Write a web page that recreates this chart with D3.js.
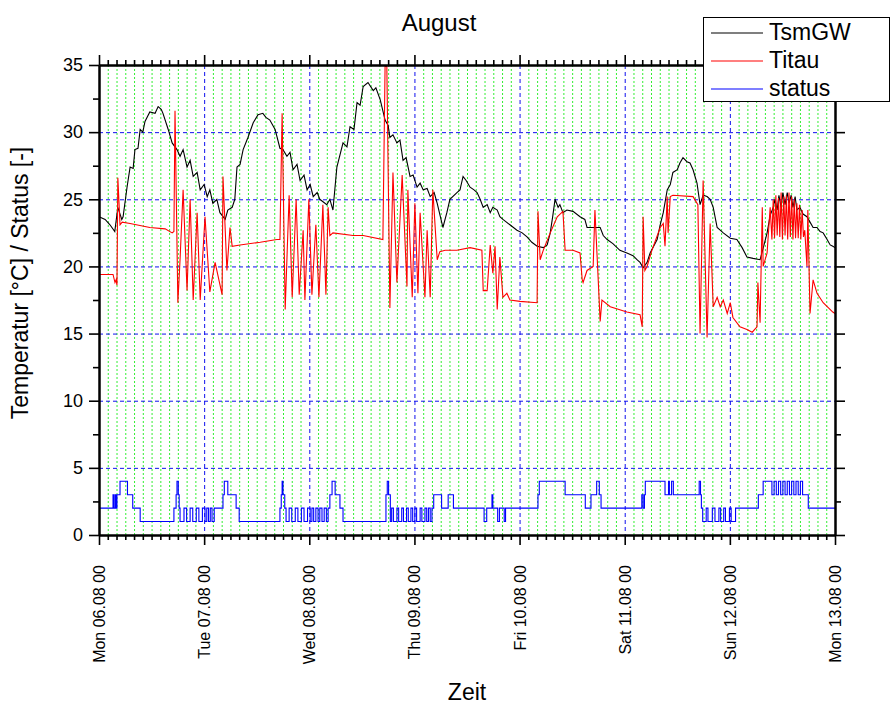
<!DOCTYPE html>
<html><head><meta charset="utf-8">
<script src="https://cdn.jsdelivr.net/npm/d3@7"></script>
<style>body{margin:0;background:#fff} text{font-family:"Liberation Sans",Arial,sans-serif}</style>
</head><body><svg id="c" width="891" height="706"></svg>
<script>
// ---------- DATA (time = hours since Mon 06.08 00:00) ----------
const dayLabels = ["Mon 06.08 00","Tue 07.08 00","Wed 08.08 00","Thu 09.08 00","Fri 10.08 00","Sat 11.08 00","Sun 12.08 00","Mon 13.08 00"];
const yTickValues = [0,5,10,15,20,25,30,35];
const seriesNames = ["TsmGW","Titau","status"];
const seriesColors = ["#000000","#ff0000","#0000ff"];

const tsmGW = [[0,23.7],[1.4,23.5],[2.5,23.1],[3.6,22.6],[4.3,24.4],[5.2,23.5],[5.5,23.7],[6.4,25.9],[7.1,27.4],[7.8,27.3],[8.2,28.7],[8.9,28.8],[9.4,30.2],[10.0,30.0],[10.5,30.8],[11.6,31.5],[12.8,31.4],[13.5,31.9],[14.2,31.7],[14.6,31.4],[15.8,30.2],[16.7,29.2],[17.8,28.7],[18.5,28.2],[19.2,28.7],[20.1,27.4],[20.8,27.9],[21.5,26.7],[22.4,27.0],[23.1,25.7],[24.0,26.1],[24.7,25.2],[25.3,25.7],[26.0,24.7],[26.9,25.0],[27.6,24.0],[28.8,23.5],[29.4,24.2],[30.4,24.4],[31.0,25.0],[31.5,27.4],[32.2,27.6],[32.9,28.7],[34.0,29.6],[35.2,30.7],[36.3,31.3],[37.4,31.4],[38.1,31.1],[39.0,30.9],[40.2,30.2],[41.3,28.8],[42.0,28.7],[42.9,28.2],[43.6,28.5],[44.3,27.2],[45.2,27.6],[45.9,26.4],[46.8,26.8],[47.5,25.7],[48.2,26.1],[48.9,25.2],[49.8,25.5],[50.4,25.0],[52.0,24.6],[52.7,25.0],[53.4,24.2],[54.3,27.4],[55.7,29.2],[56.6,28.9],[57.3,30.4],[58.2,30.2],[58.9,32.2],[59.6,32.0],[60.3,33.4],[61.4,33.7],[62.6,33.1],[63.2,33.3],[64.2,32.4],[65.3,30.9],[66.0,30.5],[66.4,29.6],[67.1,29.8],[68.0,29.2],[68.7,29.4],[69.4,27.9],[70.1,28.1],[71.0,26.7],[71.7,26.8],[72.6,25.9],[73.3,26.2],[74.0,25.7],[74.9,25.8],[75.6,25.2],[76.5,25.5],[77.2,24.7],[78.5,22.9],[79.4,24.0],[80.1,25.0],[81.7,25.5],[82.4,25.7],[83.1,26.7],[83.8,26.4],[84.7,25.9],[85.6,25.7],[86.3,25.5],[87.0,25.0],[87.7,24.4],[88.6,24.6],[89.3,24.0],[89.9,24.4],[90.9,24.2],[91.5,23.7],[92.2,23.5],[93.8,23.1],[95.4,22.7],[96.6,22.5],[97.7,22.2],[98.8,21.8],[100.0,21.5],[101.4,21.4],[102.3,21.6],[103.0,22.5],[103.6,23.8],[104.1,25.0],[104.8,24.4],[105.2,24.6],[105.9,24.0],[106.8,24.2],[108.2,24.1],[109.8,23.7],[110.9,23.5],[111.4,22.9],[112.8,22.9],[114.4,22.9],[115.1,22.3],[116.0,22.0],[117.3,21.7],[118.9,21.2],[120.5,21.0],[121.9,20.8],[122.8,20.5],[123.5,20.3],[124.2,19.9],[125.1,20.3],[125.8,21.0],[127.4,22.0],[128.1,23.1],[128.8,24.0],[129.7,25.7],[130.4,26.1],[131.0,27.0],[132.0,27.2],[132.6,27.7],[133.3,28.1],[134.2,27.8],[134.9,27.7],[135.6,27.2],[136.5,26.2],[137.2,24.6],[137.9,25.3],[138.8,25.2],[139.5,25.0],[140.2,24.4],[141.1,22.9],[141.8,22.7],[142.5,22.5],[144.1,22.1],[145.6,22.0],[146.8,21.4],[147.9,20.7],[149.3,20.6],[150.9,20.5],[151.8,21.6],[152.5,22.5],[153.2,23.8],[153.9,24.4],[154.3,25.0],[154.8,24.2],[155.2,25.3],[155.7,24.4],[156.1,25.5],[156.6,24.6],[157.1,25.5],[157.5,24.7],[158.0,25.3],[158.4,24.4],[158.9,25.2],[159.3,24.2],[160.0,24.4],[160.7,23.9],[161.6,23.7],[162.3,23.3],[163.0,22.9],[163.9,22.9],[164.6,22.6],[165.3,22.5],[166.2,22.0],[166.9,21.6],[167.5,21.5],[168.0,21.4]];

const titau = [[0,19.4],[3.2,19.4],[3.65,18.8],[3.9,19.0],[4.1,18.6],[4.3,26.6],[4.8,23.1],[5.3,23.3],[7.1,23.2],[11.6,22.9],[15.1,22.8],[16.7,22.5],[17.1,22.6],[17.35,31.6],[18.0,17.3],[18.5,20.5],[19.2,25.7],[20.1,18.2],[20.8,25.0],[21.5,17.5],[22.4,24.0],[23.1,17.5],[24.2,23.7],[25.3,18.1],[26.5,20.3],[28.1,17.9],[28.3,26.7],[29.2,19.7],[29.9,22.9],[30.4,21.5],[32.2,21.6],[36.8,21.8],[40.6,22.0],[41.3,22.0],[41.8,31.4],[42.5,16.8],[43.4,25.3],[44.1,17.7],[45.0,25.0],[45.7,17.9],[46.6,22.7],[47.0,17.5],[47.9,25.0],[48.6,17.9],[49.5,23.1],[50.2,17.7],[51.1,24.6],[51.8,17.9],[52.3,24.4],[52.7,22.3],[53.4,22.5],[58.0,22.3],[60.3,22.3],[64.8,22.0],[65.3,34.9],[65.7,34.9],[66.4,16.9],[67.1,27.0],[68.0,18.8],[69.2,26.8],[70.3,18.5],[70.5,25.7],[71.5,17.7],[72.1,24.7],[72.8,18.0],[73.3,24.0],[74.4,17.7],[74.9,22.7],[75.6,17.7],[76.2,25.7],[77.2,20.5],[77.8,21.1],[79.0,21.2],[81.7,21.2],[84.7,21.4],[87.4,21.2],[87.7,18.2],[88.6,18.2],[89.3,21.6],[89.9,19.5],[90.4,21.5],[90.9,16.8],[91.5,20.7],[92.2,17.7],[93.1,18.0],[93.8,17.5],[96.1,17.4],[100.0,17.3],[100.2,24.1],[100.7,20.5],[101.4,21.2],[103.0,22.5],[104.6,23.7],[105.9,24.1],[106.4,21.2],[108.2,21.2],[109.8,21.0],[110.3,19.0],[110.5,18.8],[111.4,19.7],[112.8,20.0],[113.2,24.2],[114.4,15.9],[114.8,17.5],[116.7,17.0],[120.5,16.6],[123.5,16.4],[124.0,15.5],[124.2,23.7],[124.6,19.7],[125.1,20.0],[126.2,21.2],[128.1,22.9],[128.8,23.2],[129.2,21.5],[129.7,25.2],[129.9,22.5],[130.4,25.2],[131.0,25.3],[135.6,25.2],[136.7,24.6],[137.2,15.0],[137.9,26.4],[138.8,14.7],[139.5,23.2],[140.2,17.0],[141.1,17.7],[141.8,17.0],[142.5,17.5],[143.4,16.5],[144.1,17.3],[144.7,16.2],[146.3,15.5],[147.9,15.3],[149.1,15.1],[150.2,15.5],[150.4,18.8],[150.9,15.8],[151.4,24.4],[151.6,20.0],[152.5,21.0],[153.2,24.4],[153.6,22.0],[153.9,25.0],[154.2,22.1],[154.5,25.3],[154.8,22.3],[155.1,25.1],[155.4,22.2],[155.7,25.5],[156.0,22.0],[156.3,25.2],[156.6,22.3],[156.9,25.3],[157.2,22.0],[157.5,25.5],[157.8,22.2],[158.1,25.2],[158.4,22.0],[158.7,25.0],[159.0,22.1],[159.3,24.7],[159.6,22.1],[159.9,24.6],[160.2,22.0],[160.5,24.2],[160.8,22.2],[161.1,22.7],[161.6,20.0],[161.8,24.2],[162.3,16.5],[163.0,19.0],[163.9,18.0],[165.3,17.3],[167.5,16.6],[168.0,16.5]];

const status = [[0,2],[3.2,3],[3.4,2],[3.7,3],[3.9,2],[4.1,3],[4.8,4],[6.5,3],[7.7,2],[9.4,1],[17.1,2],[17.6,3],[17.8,4],[18.1,3],[18.3,2],[18.5,1],[19.4,2],[20.0,1],[20.8,2],[21.4,1],[22.2,2],[22.8,1],[23.6,2],[24.2,1],[24.6,2],[25.0,1],[25.4,2],[25.8,1],[26.3,2],[28.3,3],[28.6,4],[29.4,3],[31.3,2],[32.0,1],[41.3,2],[41.6,3],[41.8,4],[42.0,3],[42.4,2],[42.7,1],[43.4,2],[44.0,1],[44.8,2],[45.4,1],[46.2,2],[46.8,1],[47.6,2],[48.2,1],[48.6,2],[49.0,1],[49.5,2],[50.0,1],[50.4,2],[50.9,1],[51.4,2],[51.9,1],[52.3,2],[52.7,3],[53.2,4],[53.9,3],[55.0,2],[55.7,1],[65.5,3],[65.8,4],[66.1,3],[66.5,1],[66.8,2],[67.2,1],[68.0,2],[68.4,1],[69.1,2],[69.5,1],[70.2,2],[70.6,1],[71.2,2],[71.6,1],[72.1,2],[72.5,1],[73.3,2],[73.7,1],[74.4,2],[74.8,1],[75.2,2],[75.6,1],[76.0,2],[76.4,3],[78.2,2],[79.7,3],[80.9,2],[87.9,1],[88.5,2],[89.7,3],[89.9,2],[91.0,1],[91.4,2],[92.5,1],[92.8,2],[100.2,3],[100.5,4],[106.4,3],[111.0,2],[112.3,3],[113.6,4],[114.2,3],[114.6,2],[123.9,3],[124.2,2],[124.5,3],[124.7,4],[129.2,3],[130.0,4],[130.2,3],[130.7,4],[131.1,3],[137.0,4],[137.3,3],[137.5,2],[137.8,1],[138.6,2],[139.0,1],[140.0,2],[140.6,1],[141.5,2],[141.9,1],[142.6,2],[143.0,1],[143.9,2],[144.3,1],[145.3,2],[150.5,3],[151.6,4],[153.6,3],[154.1,4],[154.6,3],[155.1,4],[155.6,3],[156.1,4],[156.6,3],[157.1,4],[157.6,3],[158.1,4],[158.6,3],[159.1,4],[159.6,3],[160.1,4],[160.6,3],[161.9,2],[168,2]];

// ---------- CHART ----------
const svg = d3.select("#c");
const x = d3.scaleLinear().domain([0,168]).range([99,835]);
const y = d3.scaleLinear().domain([0,35]).range([535,65]);
const dayHours = d3.range(0,169,24);
const minorHours = d3.range(2,168,2).filter(h=>h%24!==0);
const minorY = d3.range(2.5,35,5);

// grid
const grid = svg.append("g");
grid.selectAll(".gv").data(minorHours).join("line")
  .attr("x1",d=>x(d)+0.5).attr("x2",d=>x(d)+0.5).attr("y1",y(35)).attr("y2",y(0))
  .attr("stroke","#33ee33").attr("stroke-width",1).attr("stroke-dasharray","2,2");
grid.selectAll(".bv").data(dayHours.slice(1,-1)).join("line")
  .attr("x1",d=>x(d)+0.5).attr("x2",d=>x(d)+0.5).attr("y1",y(35)).attr("y2",y(0))
  .attr("stroke","#1010ee").attr("stroke-width",1).attr("stroke-dasharray","4,3");
grid.selectAll(".bh").data(yTickValues.slice(1,-1)).join("line")
  .attr("x1",x(0)).attr("x2",x(168)).attr("y1",d=>y(d)+0.5).attr("y2",d=>y(d)+0.5)
  .attr("stroke","#1010ee").attr("stroke-width",1).attr("stroke-dasharray","4,3");

// series
const line = d3.line().x(d=>x(d[0])).y(d=>y(d[1]));
const stepLine = d3.line().x(d=>x(d[0])).y(d=>y(d[1])).curve(d3.curveStepAfter);
svg.append("path").datum(tsmGW).attr("d",line).attr("fill","none").attr("stroke",seriesColors[0]).attr("stroke-width",1.1);
svg.append("path").datum(titau).attr("d",line).attr("fill","none").attr("stroke",seriesColors[1]).attr("stroke-width",1.1);
svg.append("path").datum(status).attr("d",stepLine).attr("fill","none").attr("stroke",seriesColors[2]).attr("stroke-width",1.1);

// axes
function styleAxis(g){ g.selectAll("path,line").attr("stroke","#000"); g.select(".domain").attr("stroke-width",2); g.selectAll(".tick line").attr("stroke-width",1.6); }
svg.append("g").attr("transform",`translate(0,${y(0)})`)
  .call(d3.axisBottom(x).tickValues(dayHours).tickFormat("").tickSize(10).tickSizeOuter(0)).call(styleAxis);
svg.append("g").attr("transform",`translate(0,${y(0)})`)
  .call(d3.axisBottom(x).tickValues(minorHours).tickFormat("").tickSize(5).tickSizeOuter(0)).call(styleAxis);
svg.append("g").attr("transform",`translate(0,${y(35)})`)
  .call(d3.axisTop(x).tickValues(dayHours).tickFormat("").tickSize(10).tickSizeOuter(0)).call(styleAxis);
svg.append("g").attr("transform",`translate(0,${y(35)})`)
  .call(d3.axisTop(x).tickValues(minorHours).tickFormat("").tickSize(5).tickSizeOuter(0)).call(styleAxis);
const left = svg.append("g").attr("transform",`translate(${x(0)},0)`)
  .call(d3.axisLeft(y).tickValues(yTickValues).tickSize(10).tickPadding(6).tickSizeOuter(0)).call(styleAxis);
left.selectAll("text").attr("font-size",18).attr("font-family",'"Liberation Sans",Arial,sans-serif').attr("fill","#000");
svg.append("g").attr("transform",`translate(${x(0)},0)`)
  .call(d3.axisLeft(y).tickValues(minorY).tickFormat("").tickSize(6).tickSizeOuter(0)).call(styleAxis);
svg.append("g").attr("transform",`translate(${x(168)},0)`)
  .call(d3.axisRight(y).tickValues(yTickValues).tickFormat("").tickSize(10).tickSizeOuter(0)).call(styleAxis);
svg.append("g").attr("transform",`translate(${x(168)},0)`)
  .call(d3.axisRight(y).tickValues(minorY).tickFormat("").tickSize(6).tickSizeOuter(0)).call(styleAxis);

// x tick labels rotated
svg.append("g").selectAll("text").data(dayHours).join("text")
  .attr("transform",d=>`translate(${x(d)+6},565) rotate(-90)`)
  .attr("text-anchor","end").attr("font-size",16).text((d,i)=>dayLabels[i]);

// titles
svg.append("text").attr("x",439).attr("y",31).attr("text-anchor","middle").attr("font-size",24).text("August");
svg.append("text").attr("x",467).attr("y",700).attr("text-anchor","middle").attr("font-size",23).text("Zeit");
svg.append("text").attr("transform","translate(28,283) rotate(-90)").attr("text-anchor","middle").attr("font-size",23).text("Temperatur [°C] / Status [-]");

// legend
const lg = svg.append("g");
lg.append("rect").attr("x",703.5).attr("y",17.5).attr("width",186).attr("height",84).attr("fill","#fff").attr("stroke","#000").attr("stroke-width",1);
seriesNames.forEach((n,i)=>{
  const yy = 33 + i*28;
  lg.append("line").attr("x1",711).attr("x2",763).attr("y1",yy).attr("y2",yy).attr("stroke",seriesColors[i]).attr("stroke-width",1.2);
  lg.append("text").attr("x",769).attr("y",yy+7).attr("font-size",23).text(n);
});
</script></body></html>
